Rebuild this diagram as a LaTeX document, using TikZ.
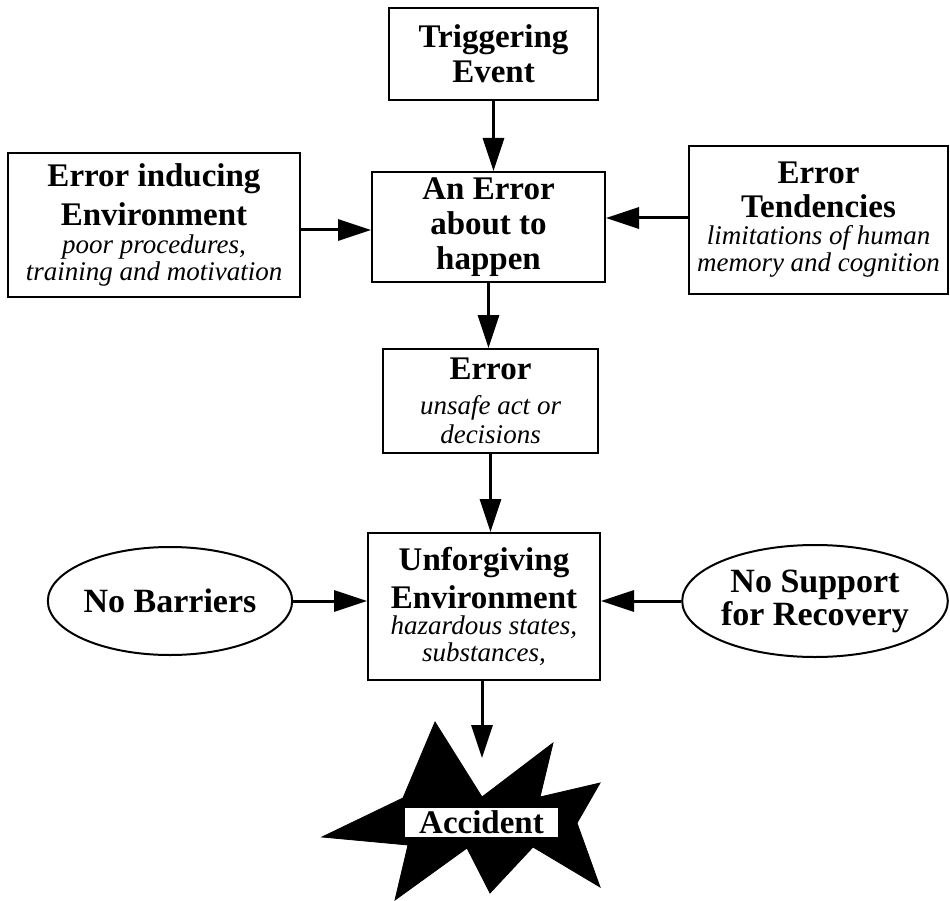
\documentclass[tikz,border=0pt]{standalone}
\usepackage{fontspec}
\setmainfont{Liberation Serif}
\usetikzlibrary{arrows.meta,shapes.geometric}

\newcommand\boldtxt{\fontsize{33}{36}\selectfont\upshape\bfseries}
\newcommand\italtxt{\fontsize{27}{27}\selectfont\mdseries\itshape}

\begin{document}
\begin{tikzpicture}[x=1pt,y=-1pt,
  box/.style={draw,line width=2pt,rectangle,align=center,inner sep=0pt},
  oval/.style={draw,line width=2pt,ellipse,align=center,inner sep=0pt,
    font=\fontsize{34}{33}\selectfont\bfseries},
  arr/.style={line width=3pt,-{Triangle[length=33pt,width=21pt]}},
  burst/.style={fill=black,draw=black,line width=0.8pt,line join=miter}]
\useasboundingbox (0,0) rectangle (950,901);

% boxes
\node[box,font=\boldtxt,minimum width=209pt,minimum height=92pt] (trig) at (493.5,54) {Triggering\\[-1pt]Event};
\node[box,font=\boldtxt,minimum width=233pt,minimum height=110pt] (about) at (488.5,227) {An Error\\[-1pt]about to\\[-1pt]happen};
\node[box,font=\italtxt,minimum width=292pt,minimum height=144pt] (induce) at (154,225)
  {{\boldtxt Error inducing}\\[7pt]{\boldtxt Environment}\\[1pt]poor procedures,\\training and motivation};
\node[box,font=\italtxt,minimum width=259pt,minimum height=148pt] (tend) at (818.5,220)
  {{\boldtxt Error}\\[7pt]{\boldtxt Tendencies}\\[0pt]limitations of human\\memory and cognition};
\node[box,font=\italtxt,minimum width=215pt,minimum height=104pt] (err) at (490.5,401)
  {{\boldtxt Error}\\[8pt]unsafe act or\\[2pt]decisions};
\node[box,font=\italtxt,minimum width=232pt,minimum height=147pt] (unforg) at (484,606.5)
  {{\boldtxt Unforgiving}\\[6pt]{\boldtxt Environment}\\[-1pt]hazardous states,\\[0pt]substances,};

% ellipses
\node[oval,minimum width=230pt,minimum height=108pt] (nobar) at (170,601) {No Barriers};
\node[oval,minimum width=264pt,minimum height=112pt] (nosup) at (815,601) {No Support\\for Recovery};

% starburst with its label
\path[burst] (435,722) -- (482,797) -- (553,743) -- (540,797) -- (600,783) -- (577,823)
  -- (600,887) -- (533,847) -- (490,893) -- (467,848) -- (395,900) -- (408,845)
  -- (322,837) -- (403,798) -- cycle;
\node[fill=white,inner sep=0pt,minimum width=153pt,minimum height=29pt,font=\fontsize{33}{33}\selectfont\bfseries] (acc) at (481.5,822.5) {\raisebox{-3pt}{Accident}};
\coordinate (acctip) at (482,758);

% connectors
\draw[arr] (trig.south) -- (trig.south |- about.north);
\draw[arr] ([yshift=-5pt]induce.east) -- ([yshift=-5pt]induce.east -| about.west);
\draw[arr] ([yshift=2pt]tend.west) -- ([yshift=2pt]tend.west -| about.east);
\draw[arr] (about.south) -- (about.south |- err.north);
\draw[arr] (err.south) -- (err.south |- unforg.north);
\draw[arr] (nobar.east) -- (nobar.east -| unforg.west);
\draw[arr] (nosup.west) -- (nosup.west -| unforg.east);
\draw[arr] ([xshift=-2pt]unforg.south) -- (acctip);
\end{tikzpicture}
\end{document}
